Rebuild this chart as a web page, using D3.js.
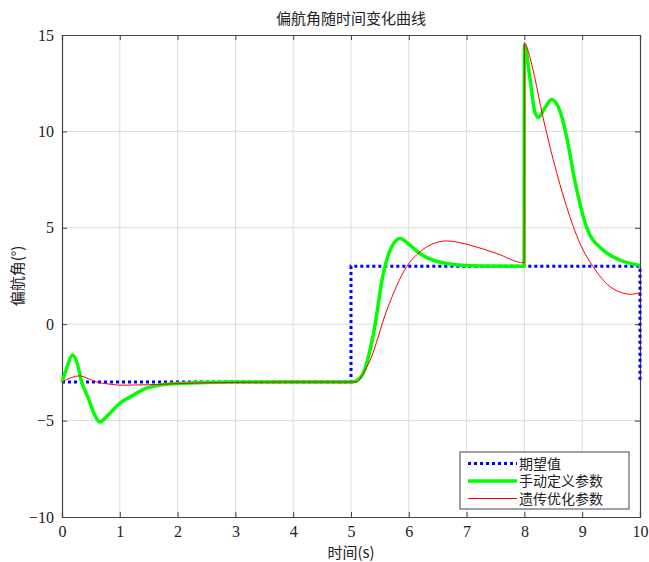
<!DOCTYPE html>
<html>
<head>
<meta charset="utf-8">
<script src="https://cdn.jsdelivr.net/npm/d3@7"></script>
<style>
  body { margin: 0; background: #fff; }
  #chart { width: 649px; height: 562px; }
  .tick text { font-family: "Liberation Serif", "Times New Roman", serif; font-size: 16px; fill: #222; }
  .cjk { font-family: "Noto Sans CJK SC", sans-serif; fill: #222; }
</style>
</head>
<body>
<div id="chart"></div>
<script>
// desired yaw
const desiredT = [0, 5, 5, 10, 10];
const desiredV = [-3, -3, 3, 3, -3];

// manual parameters
const manualT = [0, 0.08, 0.18, 0.26, 0.34, 0.45, 0.55, 0.65, 0.8, 1.0, 1.18, 1.46, 1.7, 2.0, 2.5, 3, 4, 5, 5.08, 5.21, 5.39, 5.56, 5.7, 5.85, 6.02, 6.19, 6.42, 6.77, 7.2, 7.995, 8.0, 8.1, 8.18, 8.24, 8.35, 8.47, 8.61, 8.73, 8.87, 9.08, 9.36, 9.65, 10];
const manualV = [-3, -2.3, -1.6, -2.0, -3.0, -3.8, -4.6, -5.07, -4.7, -4.1, -3.77, -3.32, -3.15, -3.08, -3.02, -3, -3, -3, -2.95, -2.56, -0.48, 2.63, 4.0, 4.45, 4.1, 3.67, 3.32, 3.1, 3.02, 3.0, 14.48, 12.67, 11.02, 10.73, 11.2, 11.66, 11.1, 9.73, 7.48, 5.0, 3.85, 3.33, 3.05];

// GA optimised parameters
const gaT = [0, 0.15, 0.31, 0.45, 0.6, 0.8, 1.0, 1.5, 2.0, 2.5, 3, 4, 5, 5.1, 5.2, 5.33, 5.62, 5.96, 6.19, 6.4, 6.65, 6.85, 7.06, 7.52, 7.995, 8.0, 8.05, 8.15, 8.32, 8.5, 8.73, 8.96, 9.19, 9.48, 9.7, 9.83, 10];
const gaV = [-3, -2.78, -2.68, -2.82, -3.0, -3.1, -3.16, -3.14, -3.08, -3.04, -3.02, -3, -3, -3, -2.6, -1.87, 0.73, 2.97, 3.75, 4.15, 4.32, 4.25, 4.1, 3.67, 3.18, 14.6, 14.3, 13.18, 10.76, 8.52, 6.1, 4.2, 2.98, 1.95, 1.62, 1.55, 1.63];

const xTicks = [0, 1, 2, 3, 4, 5, 6, 7, 8, 9, 10];
const yTicks = [-10, -5, 0, 5, 10, 15];
const seriesNames = ["期望值", "手动定义参数", "遗传优化参数"];

const width = 649, height = 562;
const margin = {top: 35, left: 62, right: 9, bottom: 45};

const svg = d3.select("#chart").append("svg")
    .attr("width", width)
    .attr("height", height);

const x = d3.scaleLinear().domain([0, 10]).range([margin.left, width - margin.right]);
const y = d3.scaleLinear().domain([-10, 15]).range([height - margin.bottom, margin.top]);

// grid
svg.append("g").selectAll("line").data(xTicks.slice(1, -1)).join("line")
    .attr("x1", d => x(d)).attr("x2", d => x(d))
    .attr("y1", y(-10)).attr("y2", y(15))
    .attr("stroke", "#dcdcdc").attr("stroke-width", 1);
svg.append("g").selectAll("line").data(yTicks.slice(1, -1)).join("line")
    .attr("y1", d => y(d)).attr("y2", d => y(d))
    .attr("x1", x(0)).attr("x2", x(10))
    .attr("stroke", "#dcdcdc").attr("stroke-width", 1);

// axes (ticks inward like matlab)
const xAxis = svg.append("g")
    .attr("transform", `translate(0,${y(-10)})`)
    .call(d3.axisBottom(x).tickValues(xTicks).tickSize(-5).tickPadding(9).tickFormat(d3.format("d")));
const xTop = svg.append("g")
    .attr("transform", `translate(0,${y(15)})`)
    .call(d3.axisTop(x).tickValues(xTicks).tickSize(-5).tickFormat(""));
const yAxis = svg.append("g")
    .attr("transform", `translate(${x(0)},0)`)
    .call(d3.axisLeft(y).tickValues(yTicks).tickSize(-5).tickPadding(8).tickFormat(d3.format("d")));
const yRight = svg.append("g")
    .attr("transform", `translate(${x(10)},0)`)
    .call(d3.axisRight(y).tickValues(yTicks).tickSize(-5).tickFormat(""));

[xAxis, xTop, yAxis, yRight].forEach(g => {
  g.select(".domain").attr("stroke", "#444").attr("stroke-width", 1.2);
  g.selectAll(".tick line").attr("stroke", "#444");
});

const line = d3.line()
    .x(d => x(d[0]))
    .y(d => y(d[1]));
const smooth = d3.line()
    .x(d => x(d[0]))
    .y(d => y(d[1]))
    .curve(d3.curveMonotoneX);

svg.append("path")
    .datum(d3.zip(desiredT, desiredV))
    .attr("d", line)
    .attr("fill", "none")
    .attr("stroke", "#0000ff")
    .attr("stroke-width", 3)
    .attr("stroke-dasharray", "3,3");

svg.append("path")
    .datum(d3.zip(manualT, manualV))
    .attr("d", smooth)
    .attr("fill", "none")
    .attr("stroke", "#00ff00")
    .attr("stroke-width", 3.5);

svg.append("path")
    .datum(d3.zip(gaT, gaV))
    .attr("d", smooth)
    .attr("fill", "none")
    .attr("stroke", "#ff0000")
    .attr("stroke-width", 1);

// title and labels
svg.append("text").attr("class", "cjk")
    .attr("x", (x(0) + x(10)) / 2).attr("y", 24)
    .attr("text-anchor", "middle").attr("font-size", 15)
    .text("偏航角随时间变化曲线");

svg.append("text").attr("class", "cjk")
    .attr("x", (x(0) + x(10)) / 2).attr("y", 558)
    .attr("text-anchor", "middle").attr("font-size", 15)
    .text("时间(s)");

svg.append("text").attr("class", "cjk")
    .attr("transform", `translate(23,${y(2.5)}) rotate(-90)`)
    .attr("text-anchor", "middle").attr("font-size", 15)
    .text("偏航角(°)");

// legend
const legend = svg.append("g").attr("transform", "translate(460,452)");
legend.append("rect")
    .attr("width", 169).attr("height", 57)
    .attr("fill", "#fff").attr("stroke", "#444").attr("stroke-width", 1);

const legendStyle = [
  {color: "#0000ff", w: 3, dash: "3,3"},
  {color: "#00ff00", w: 3.5, dash: null},
  {color: "#ff0000", w: 1, dash: null}
];
seriesNames.forEach((name, i) => {
  const ly = 11.5 + i * 17.5;
  legend.append("line")
      .attr("x1", 8).attr("x2", 57).attr("y1", ly).attr("y2", ly)
      .attr("stroke", legendStyle[i].color)
      .attr("stroke-width", legendStyle[i].w)
      .attr("stroke-dasharray", legendStyle[i].dash);
  legend.append("text").attr("class", "cjk")
      .attr("x", 59).attr("y", ly + 5)
      .attr("font-size", 14)
      .text(name);
});
</script>
</body>
</html>
